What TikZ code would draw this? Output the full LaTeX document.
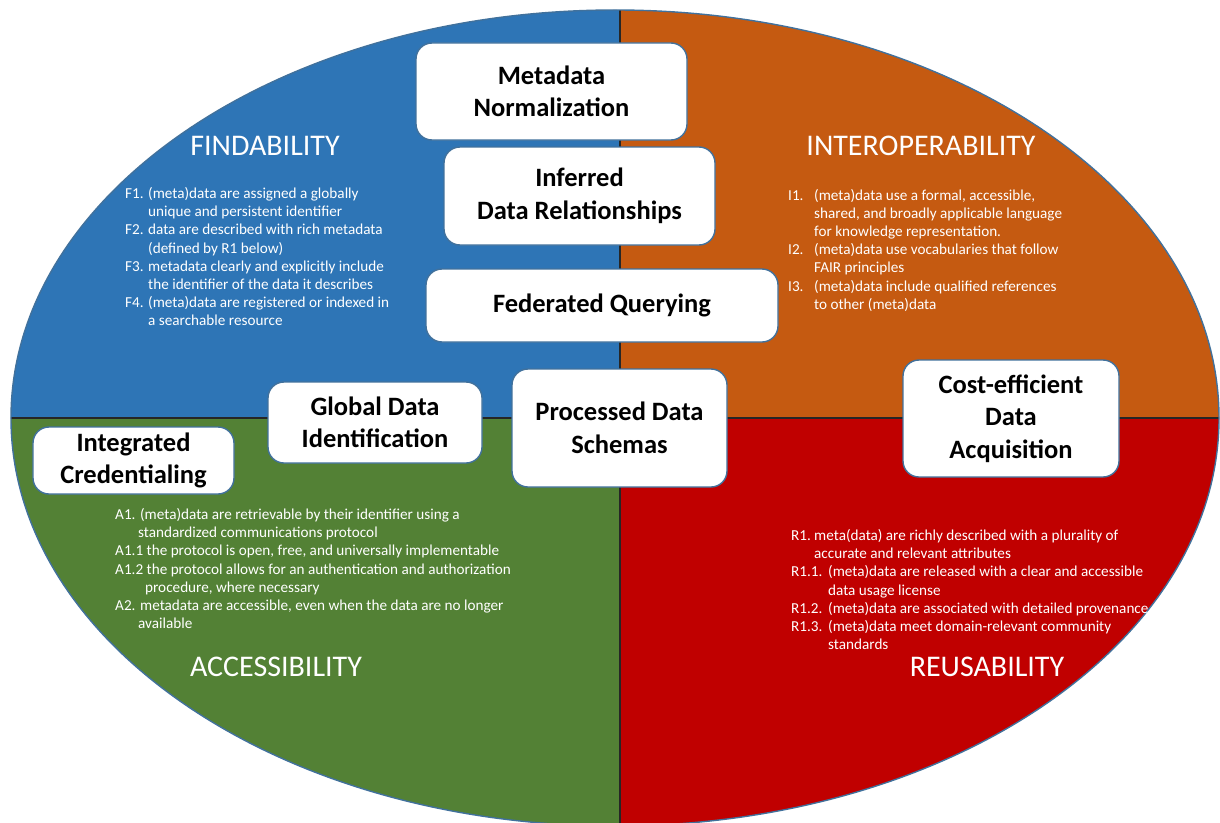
\documentclass[tikz,border=0pt]{standalone}
\usepackage{fontspec}
\setmainfont{Carlito}
\definecolor{findblue}{HTML}{2E75B6}
\definecolor{interorange}{HTML}{C55A11}
\definecolor{accgreen}{HTML}{538135}
\definecolor{reured}{HTML}{C00000}
\definecolor{boxline}{HTML}{41719C}
\begin{document}
\begin{tikzpicture}[x=1bp,y=-1bp,
  conceptbox/.style={draw=boxline, line width=1.4bp, fill=white, rounded corners=16bp,
    align=center, inner sep=0, text=black,
    font=\fontsize{26.5bp}{32.5bp}\selectfont\bfseries},
  heading/.style={text=white, inner sep=0, anchor=base,
    font=\fontsize{30bp}{36bp}\selectfont},
  itemline/.style={text=white, inner sep=0, anchor=base west,
    font=\fontsize{15.2bp}{18bp}\selectfont},
  divider/.style={draw=black!85, line width=1.5bp}]
\useasboundingbox (0,0) rectangle (1220,823);

% four coloured quadrants of the FAIR ellipse
\begin{scope}
  \clip (615,418) ellipse [x radius=604bp, y radius=408bp];
  \fill[findblue]    (0,0)     rectangle (620,418);
  \fill[interorange] (620,0)   rectangle (1230,418);
  \fill[accgreen]    (0,418)   rectangle (620,840);
  \fill[reured]      (620,418) rectangle (1230,840);
  \draw[divider] (620,0) -- (620,840);
  \draw[divider] (0,418) -- (1230,418);
\end{scope}
\draw[boxline, line width=1.4bp] (615,418) ellipse [x radius=604bp, y radius=408bp];

% principle headings
\node[heading] (hf) at (265,155) {FINDABILITY};
\node[heading] (hi) at (921,155) {INTEROPERABILITY};
\node[heading] (ha) at (276,676) {ACCESSIBILITY};
\node[heading] (hr) at (987,676) {REUSABILITY};

% Findability principles
\foreach \dx/\txt [count=\i] in {
  0/{\makebox[23bp][l]{F1.}(meta)data are assigned a globally},
  23/{unique and persistent identifier},
  0/{\makebox[23bp][l]{F2.}data are described with rich metadata},
  23/{(defined by R1 below)},
  0/{\makebox[23bp][l]{F3.}metadata clearly and explicitly include},
  23/{the identifier of the data it describes},
  0/{\makebox[23bp][l]{F4.}(meta)data are registered or indexed in},
  23/{a searchable resource}}
  \node[itemline] (f\i) at (125+\dx, {198.5+18.2*(\i-1)}) {\txt};

% Interoperability principles
\foreach \dx/\txt [count=\i] in {
  0/{\makebox[26bp][l]{I1.}(meta)data use a formal, accessible,},
  26/{shared, and broadly applicable language},
  26/{for knowledge representation.},
  0/{\makebox[26bp][l]{I2.}(meta)data use vocabularies that follow},
  26/{FAIR principles},
  0/{\makebox[26bp][l]{I3.}(meta)data include qualified references},
  26/{to other (meta)data}}
  \node[itemline] (i\i) at (788+\dx, {200.5+18.1*(\i-1)}) {\txt};

% Accessibility principles
\foreach \dx/\txt [count=\i] in {
  0/{A1. (meta)data are retrievable by their identifier using a},
  23/{standardized communications protocol},
  0/{A1.1 the protocol is open, free, and universally implementable},
  0/{A1.2 the protocol allows for an authentication and authorization},
  30/{procedure, where necessary},
  0/{A2. metadata are accessible, even when the data are no longer},
  23/{available}}
  \node[itemline] (a\i) at (115+\dx, {519.5+18.2*(\i-1)}) {\txt};

% Reusability principles
\foreach \dx/\txt [count=\i] in {
  0/{\makebox[23bp][l]{R1.}meta(data) are richly described with a plurality of},
  23/{accurate and relevant attributes},
  0/{\makebox[37bp][l]{R1.1.}(meta)data are released with a clear and accessible},
  37/{data usage license},
  0/{\makebox[37bp][l]{R1.2.}(meta)data are associated with detailed provenance},
  0/{\makebox[37bp][l]{R1.3.}(meta)data meet domain-relevant community},
  37/{standards}}
  \node[itemline] (r\i) at (791+\dx, {540.5+18.2*(\i-1)}) {\txt};

% capability boxes
\node[conceptbox, minimum width=271bp, minimum height=97bp] (norm) at (551.5,91.5) {Metadata\\Normalization};
\node[conceptbox, minimum width=271bp, minimum height=98bp] (infer) at (579.5,196) {Inferred\\Data Relationships};
\node[conceptbox, minimum width=352bp, minimum height=73bp] (fedq) at (602,305.5) {Federated Querying};
\node[conceptbox, minimum width=214bp, minimum height=81bp] (gdid) at (375,422.5) {Global Data\\Identification};
\node[conceptbox, minimum width=201bp, minimum height=67bp] (cred) at (133.5,460.5) {Integrated\\Credentialing};
\node[conceptbox, minimum width=215bp, minimum height=118bp] (schema) at (619.5,428) {Processed Data\\Schemas};
\node[conceptbox, minimum width=216bp, minimum height=117bp] (acq) at (1011,418.5) {Cost-efficient\\Data\\Acquisition};
\end{tikzpicture}
\end{document}
